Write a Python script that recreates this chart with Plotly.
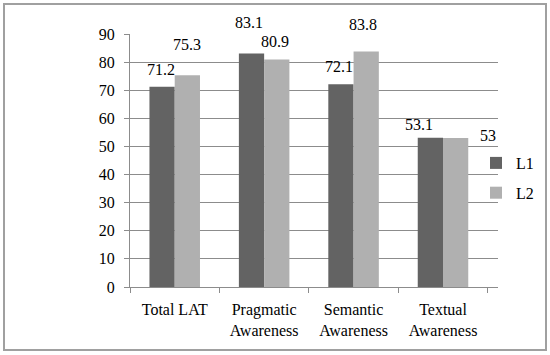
import plotly.graph_objects as go

categories = ["Total LAT", "Pragmatic<br>Awareness", "Semantic<br>Awareness", "Textual<br>Awareness"]
l1_values = [71.2, 83.1, 72.1, 53.1]
l2_values = [75.3, 80.9, 83.8, 53.0]
l1_labels = ["71.2", "83.1", "72.1", "53.1"]
l2_labels = ["75.3", "80.9", "83.8", "53"]
y_ticks = [0, 10, 20, 30, 40, 50, 60, 70, 80, 90]

# label offsets (pixels) mimicking the original placement
l1_shift = [(-1, 17), (-2, 31), (-2, 18), (-11, 13)]
l2_shift = [(-1, 31), (-2, 18), (-4, 27), (32, 3)]

FONT = "Liberation Serif"
C1 = "#636363"
C2 = "#b0b0b0"

fig = go.Figure()
fig.add_trace(go.Bar(x=categories, y=l1_values, name="L1", marker=dict(color=C1, line=dict(width=0)), legendgroup="a"))
fig.add_trace(go.Bar(x=categories, y=l2_values, name="L2", marker=dict(color=C2, line=dict(width=0)), legendgroup="b"))

annotations = []
for i, c in enumerate(categories):
    dx, dy = l1_shift[i]
    annotations.append(dict(x=c, y=l1_values[i], xref="x", yref="y", text=l1_labels[i], showarrow=False,
                            xshift=-13 + dx, yshift=dy, yanchor="middle", xanchor="center",
                            font=dict(family=FONT, size=16, color="black")))
    dx, dy = l2_shift[i]
    annotations.append(dict(x=c, y=l2_values[i], xref="x", yref="y", text=l2_labels[i], showarrow=False,
                            xshift=13 + dx, yshift=dy, yanchor="middle", xanchor="center",
                            font=dict(family=FONT, size=16, color="black")))

L, R, T, B = 130, 52, 34, 68
W, H = 550, 355
pw, ph = W - L - R, H - T - B

def px_x(p):
    return (p - L) / pw

def px_y(p):
    return (H - B - p) / ph

fig.update_layout(
    width=W, height=H,
    margin=dict(l=L, r=R, t=T, b=B, pad=0, autoexpand=False),
    paper_bgcolor="white", plot_bgcolor="white",
    font=dict(family=FONT, size=16, color="black"),
    bargap=0.435, bargroupgap=0,
    barmode="group",
    showlegend=True,
    legend=dict(x=px_x(476), y=px_y(146), xanchor="left", yanchor="top",
                bgcolor="rgba(0,0,0,0)", tracegroupgap=6, traceorder="grouped",
                font=dict(family=FONT, size=16), itemwidth=30),
    annotations=annotations,
    shapes=[dict(type="rect", xref="paper", yref="paper",
                 x0=px_x(4), x1=px_x(546), y0=px_y(350), y1=px_y(4),
                 line=dict(color="#a0a0a0", width=2), layer="below")],
    xaxis=dict(showline=True, linecolor="#8c8c8c", linewidth=1, ticks="outside", tickson="boundaries",
               ticklen=5, tickcolor="#8c8c8c", showgrid=False, tickfont=dict(family=FONT, size=16),
               ticklabelstandoff=8, automargin=False),
    yaxis=dict(range=[0, 90], tickvals=y_ticks, showline=True, linecolor="#8c8c8c", linewidth=1,
               ticks="outside", ticklen=5, tickcolor="#8c8c8c", showgrid=True, gridcolor="#8c8c8c",
               gridwidth=1, zeroline=False, tickfont=dict(family=FONT, size=16), ticklabelstandoff=6,
               automargin=False),
)

fig.write_html("out.html", config={"displayModeBar": False},
               post_script="document.body.style.margin='0';")
